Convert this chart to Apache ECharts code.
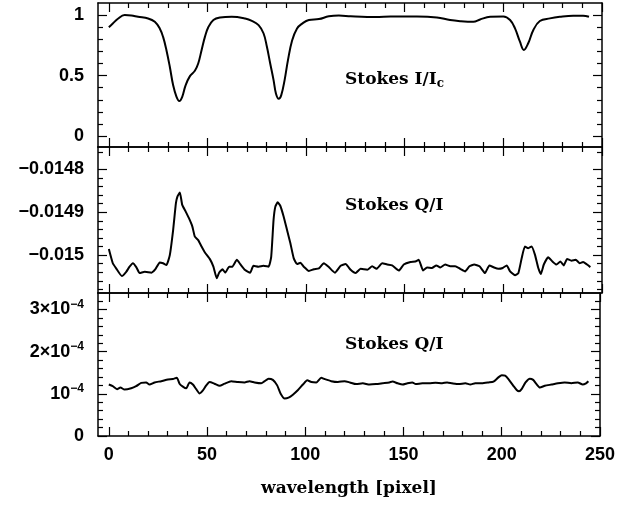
<!DOCTYPE html>
<html>
<head>
<meta charset="utf-8">
<script src="https://cdn.jsdelivr.net/npm/echarts@6/dist/echarts.min.js"></script>
<style>
  html, body { margin: 0; padding: 0; background: #fff; }
  #chart { width: 618px; height: 506px; }
</style>
</head>
<body>
<div id="chart"></div>
<script>
// pixel positions along the spectrum
var iX = [0, 2, 4.6, 8, 11.4, 14.8, 19.9, 23.3, 25.8, 27.5, 29.2, 30.9, 32.6, 34.3, 35.7, 37.2, 38.9, 41.1, 43.6, 45.3,
  47, 48.7, 50.4, 53, 56.4, 62.3, 69.1, 72.5, 75.9, 78.4, 80.1, 81.8, 83.5, 84.7, 86.1, 87.4, 89.1, 90.8, 92.9, 95.4,
  98, 101.4, 106.5, 111.5, 116.6, 122.6, 131, 139.4, 147.8, 156.2, 166.3, 173, 178.1, 184.8, 188.2, 193.3, 200, 203.4,
  205.9, 208.4, 210.4, 212.6, 215.2, 218.5, 223.6, 228.6, 235.4, 240.4, 243.4];
// Stokes I / I_c
var stokesI = [0.90, 0.93, 0.97, 1.0, 0.997, 0.986, 0.972, 0.945, 0.89, 0.82, 0.71, 0.573, 0.42, 0.325, 0.29, 0.325, 0.42, 0.496, 0.54, 0.60,
  0.71, 0.82, 0.90, 0.96, 0.98, 0.986, 0.972, 0.953, 0.917, 0.85, 0.74, 0.60, 0.463, 0.353, 0.309, 0.339, 0.463, 0.628, 0.79, 0.89,
  0.93, 0.96, 0.967, 0.99, 0.997, 0.99, 0.984, 0.986, 0.989, 0.989, 0.981, 0.959, 0.95, 0.945, 0.964, 0.986, 0.989, 0.959,
  0.89, 0.78, 0.712, 0.767, 0.877, 0.951, 0.973, 0.986, 0.995, 0.995, 0.986];

var qX = [0, 2, 3.7, 6.6, 8.8, 10.5, 12.2, 13.9, 15.6, 18.2, 21.6, 23.6, 25.8, 27.5, 29.2, 30.9, 32.6, 34, 34.8, 36,
  37.2, 38.9, 40.6, 42.3, 43.6, 45.3, 47, 48.7, 51.3, 53, 54.7, 55.9, 57.6, 59, 61, 62.6, 64.9, 66.6, 69.1, 71.6,
  73.3, 75.9, 78.4, 81, 82.3, 83.5, 84.4, 85.6, 86.9, 88.6, 90.3, 92, 93.7, 95.4, 97.1, 98.8, 101.4, 103.9, 106.5, 109,
  111.5, 114.6, 117.5, 120, 122.7, 125.1, 127.6, 131, 133.5, 135.7, 138.6, 141.1, 143.6, 147, 149.5, 152.9, 155.4, 157.1, 159.3, 161.3,
  163.8, 166, 168, 170.5, 173.1, 175.6, 178.1, 180.6, 182.8, 185.2, 187.9, 190.7, 192.9, 195.3, 197.5, 199.7, 201.7, 203.4, 205.9, 207.6,
  209.3, 210.9, 212.6, 214.3, 216, 217.7, 219, 220.5, 222.7, 224.9, 226.9, 228.9, 230.6, 232.3, 234.5, 236.7, 238.7, 240.4, 242.4, 244.1];
// Stokes Q / I (middle panel)
var stokesQ = [-0.014986, -0.015019, -0.015031, -0.015049, -0.015039, -0.015027, -0.015019, -0.015028, -0.015042, -0.015039,
  -0.015041, -0.015033, -0.015017, -0.015019, -0.015023, -0.015000, -0.014941, -0.014879, -0.014863, -0.014854,
  -0.014883, -0.014898, -0.014914, -0.014933, -0.014957, -0.014965, -0.014980, -0.014994, -0.015010, -0.015027,
  -0.015054, -0.015041, -0.015033, -0.015041, -0.015027, -0.015027, -0.015011, -0.015021, -0.015035, -0.015041,
  -0.015025, -0.015027, -0.015025, -0.015027, -0.015004, -0.014918, -0.014887, -0.014877, -0.014885, -0.014910,
  -0.014941, -0.014972, -0.015007, -0.015021, -0.015018, -0.015027, -0.015037, -0.015033, -0.015031, -0.015019,
  -0.015028, -0.015041, -0.015025, -0.015021, -0.015035, -0.015042, -0.015032, -0.015034, -0.015026, -0.015032,
  -0.015019, -0.015022, -0.015024, -0.015036, -0.015022, -0.015016, -0.015015, -0.015011, -0.015036, -0.015029,
  -0.015030, -0.015024, -0.015029, -0.015022, -0.015026, -0.015026, -0.015032, -0.015038, -0.015026, -0.015022,
  -0.015026, -0.015042, -0.015024, -0.015029, -0.015032, -0.015030, -0.015024, -0.015038, -0.015047, -0.015042,
  -0.015007, -0.014980, -0.014984, -0.014980, -0.014999, -0.015030, -0.015044, -0.015022, -0.015005, -0.015015,
  -0.015022, -0.015015, -0.015024, -0.015009, -0.015013, -0.015011, -0.015019, -0.015016, -0.015022, -0.015028];

var q2X = [0, 2, 4.2, 5.9, 8, 11.4, 13.9, 16.5, 19, 20.7, 23.3, 26.7, 30.1, 32.6, 34.6, 36, 37.7, 39.4, 41.1, 42.8,
  44.5, 46.2, 47.9, 49.6, 51.3, 53.8, 56.4, 58.9, 62.3, 65.7, 69.1, 71.6, 74.2, 77.6, 79.3, 81.3, 83.5, 85.7, 87.4, 89.5,
  91.5, 93.7, 96.3, 98.8, 101, 103.1, 105.6, 108.1, 109.8, 113.2, 116.6, 120, 122.7, 125.9, 129.3, 132.7, 136, 139.4, 142.8, 144.4,
  147, 149.5, 152, 154.5, 156.2, 159.6, 163, 166.3, 169.7, 172.2, 174.7, 178.1, 181.5, 184, 186.5, 189.9, 193.3, 195.8, 198.3, 200,
  201.7, 203.4, 205.9, 207.6, 208.8, 210.1, 212.1, 214.3, 216, 217.7, 219.4, 221.9, 225.3, 228.6, 232, 235.4, 238.7, 241.2, 242.9, 244.1];
// Stokes Q / I (bottom panel), in units of 1e-4
var stokesQ2E4 = [1.22, 1.18, 1.11, 1.15, 1.10, 1.13, 1.18, 1.26, 1.27, 1.22, 1.27, 1.30, 1.34, 1.35, 1.38, 1.24, 1.17, 1.13, 1.27, 1.22,
  1.11, 1.01, 1.08, 1.20, 1.28, 1.24, 1.19, 1.24, 1.30, 1.28, 1.27, 1.30, 1.27, 1.25, 1.30, 1.36, 1.33, 1.20, 1.01, 0.89,
  0.91, 0.98, 1.09, 1.22, 1.32, 1.28, 1.27, 1.38, 1.35, 1.30, 1.28, 1.30, 1.27, 1.23, 1.25, 1.22, 1.23, 1.25, 1.27, 1.29,
  1.25, 1.22, 1.25, 1.27, 1.23, 1.25, 1.25, 1.26, 1.25, 1.27, 1.25, 1.23, 1.25, 1.22, 1.25, 1.25, 1.27, 1.29, 1.39, 1.44,
  1.43, 1.35, 1.19, 1.09, 1.06, 1.11, 1.27, 1.36, 1.33, 1.23, 1.15, 1.19, 1.22, 1.25, 1.27, 1.25, 1.27, 1.22, 1.25, 1.30];

// tick positions
var xMajor = [0, 50, 100, 150, 200, 250];
var xMinor = [10, 20, 30, 40, 60, 70, 80, 90, 110, 120, 130, 140, 160, 170, 180, 190, 210, 220, 230, 240];
var iMajor = [0, 0.5, 1];
var iMinor = [0.1, 0.2, 0.3, 0.4, 0.6, 0.7, 0.8, 0.9];
var qMajor = [-0.0148, -0.0149, -0.015];
var qMinor = [-0.01476, -0.01482, -0.01484, -0.01486, -0.01488, -0.01492, -0.01494, -0.01496, -0.01498,
  -0.01502, -0.01504, -0.01506, -0.01508];
var q2Major = [0, 1e-4, 2e-4, 3e-4];
var q2Minor = [0.2e-4, 0.4e-4, 0.6e-4, 0.8e-4, 1.2e-4, 1.4e-4, 1.6e-4, 1.8e-4, 2.2e-4, 2.4e-4, 2.6e-4, 2.8e-4, 3.2e-4];

var myChart = echarts.init(document.getElementById('chart'));

var labelFont = 'Liberation Sans';
var textFont = 'DejaVu Serif';
var XMIN = -5.5, XMAX = 250;

var grids = [
  { left: 98, right: 16, top: 3, height: 144 },
  { left: 98, right: 16, top: 147, height: 146 },
  { left: 98, right: 16, top: 293, height: 143 }
];
var yRange = [[-0.09, 1.1], [-0.0150884, -0.014748], [0, 3.39e-4]];
var yTicks = [[iMajor, iMinor], [qMajor, qMinor], [q2Major, q2Minor]];

function pair(xs, ys, k) {
  return xs.map(function(x, i) { return [x, ys[i] * (k || 1)]; });
}

function yLabel(g, v) {
  if (g === 0) return String(v);
  if (g === 1) return String(v).replace('-', '\u2212');
  var n = Math.round(v * 1e4);
  if (n === 0) return '0';
  if (n === 1) return '{b|10}{s|\u22124}';
  return '{b|' + n + '\u00d710}{s|\u22124}';
}

var xAxes = [], yAxes = [];
grids.forEach(function(gr, g) {
  ['bottom', 'top'].forEach(function(pos) {
    [xMajor, xMinor].forEach(function(vals, m) {
      xAxes.push({
        type: 'value', gridIndex: g, position: pos, min: XMIN, max: XMAX,
        splitLine: { show: false },
        axisLine: { show: m === 0, onZero: false, lineStyle: { color: '#000', width: 1.5 } },
        axisTick: { inside: true, customValues: vals, length: m === 0 ? 9 : 5, lineStyle: { color: '#000', width: 1.2 } },
        axisLabel: {
          show: g === 2 && pos === 'bottom' && m === 0, customValues: xMajor, margin: 10,
          color: '#000', fontFamily: labelFont, fontSize: 18, fontWeight: 'bold'
        },
        name: (g === 2 && pos === 'bottom' && m === 0) ? 'wavelength [pixel]' : '',
        nameLocation: 'middle', nameGap: 44,
        nameTextStyle: { color: '#000', fontFamily: textFont, fontSize: 17, fontWeight: 'bold' }
      });
    });
  });
  ['left', 'right'].forEach(function(pos) {
    yTicks[g].forEach(function(vals, m) {
      yAxes.push({
        type: 'value', gridIndex: g, position: pos, min: yRange[g][0], max: yRange[g][1],
        splitLine: { show: false },
        axisLine: { show: m === 0, onZero: false, lineStyle: { color: '#000', width: 1.5 } },
        axisTick: { inside: true, customValues: vals, length: m === 0 ? 9 : 5, lineStyle: { color: '#000', width: 1.2 } },
        axisLabel: {
          show: pos === 'left' && m === 0, customValues: yTicks[g][0], margin: 14,
          color: '#000', fontFamily: labelFont, fontSize: 18, fontWeight: 'bold',
          formatter: function(v) { return yLabel(g, v); },
          rich: {
            b: { fontFamily: labelFont, fontSize: 18, fontWeight: 'bold', color: '#000' },
            s: { fontFamily: labelFont, fontSize: 12, fontWeight: 'bold', color: '#000', padding: [0, 0, 10, 0] }
          }
        }
      });
    });
  });
});

var lineStyle = { color: '#000', width: 2 };
var series = [
  { type: 'line', xAxisIndex: 0, yAxisIndex: 0, data: pair(iX, stokesI), smooth: 0.4 },
  { type: 'line', xAxisIndex: 4, yAxisIndex: 4, data: pair(qX, stokesQ), smooth: 0.15 },
  { type: 'line', xAxisIndex: 8, yAxisIndex: 8, data: pair(q2X, stokesQ2E4, 1e-4), smooth: 0.2 }
].map(function(s) {
  s.showSymbol = false; s.lineStyle = lineStyle; s.silent = true; s.animation = false;
  return s;
});

var txt = { fill: '#000', font: 'bold 17px "DejaVu Serif"' };
var option = {
  animation: false,
  grid: grids,
  xAxis: xAxes,
  yAxis: yAxes,
  series: series,
  graphic: [
    { type: 'text', left: 345, top: 71, style: {
      text: '{m|Stokes I/I}{c|c}', fill: '#000',
      rich: {
        m: { fontFamily: textFont, fontSize: 17, fontWeight: 'bold', fill: '#000' },
        c: { fontFamily: textFont, fontSize: 12, fontWeight: 'bold', fill: '#000', padding: [9, 0, 0, 0] }
      } } },
    { type: 'text', left: 345, top: 197, style: { text: 'Stokes Q/I', fill: txt.fill, font: txt.font } },
    { type: 'text', left: 345, top: 336, style: { text: 'Stokes Q/I', fill: txt.fill, font: txt.font } }
  ]
};
myChart.setOption(option);
</script>
</body>
</html>
